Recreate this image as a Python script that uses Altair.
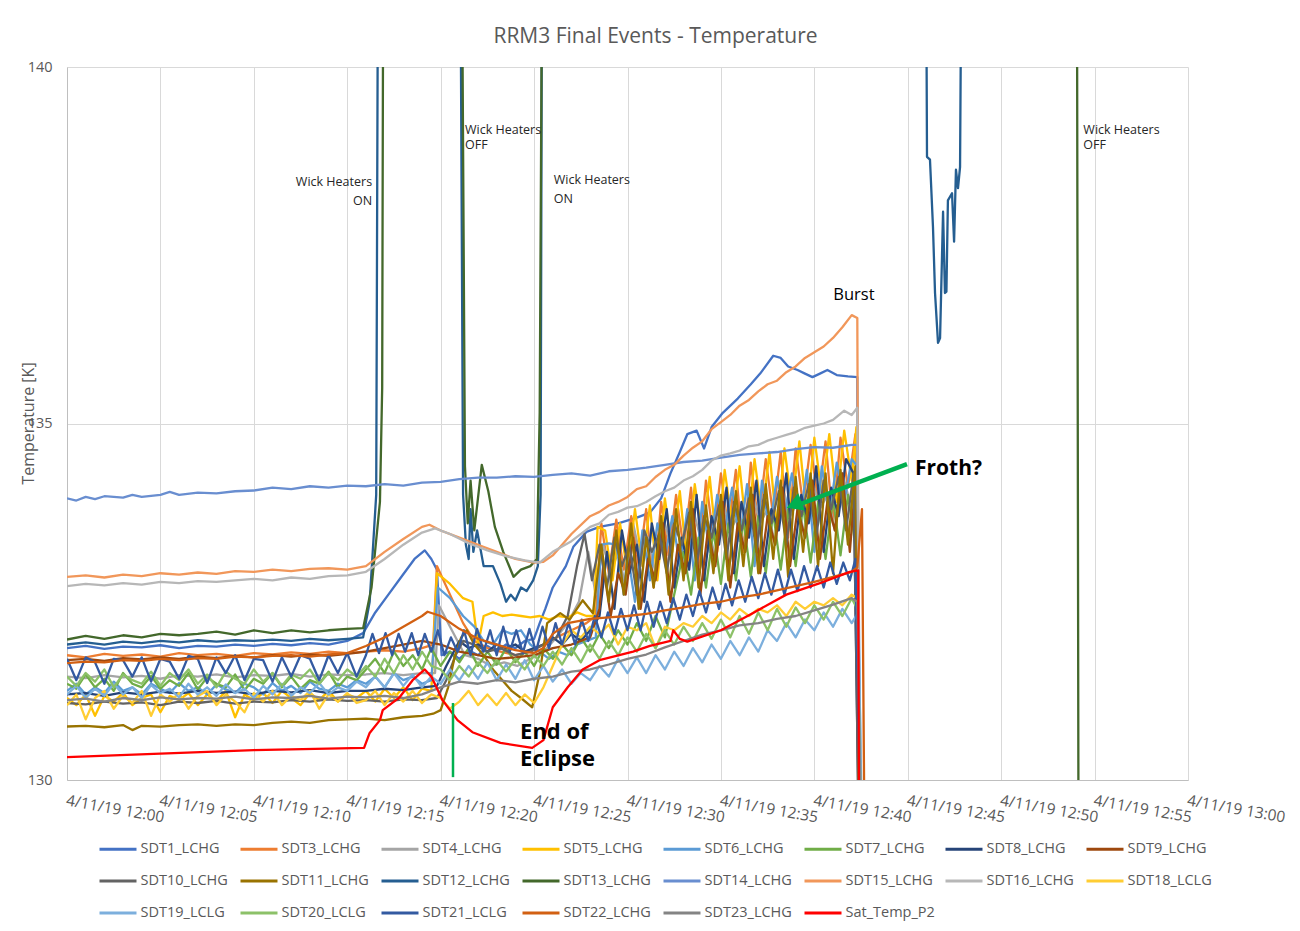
import altair as alt
import pandas as pd

# ---------------------------------------------------------------- data
# time in minutes after 4/11/19 12:00, temperature in K
PRE_T = [i * 0.5 for i in range(32)]  # 12:00 .. 12:15:30, 30 s sampling

SERIES = ["SDT1_LCHG", "SDT3_LCHG", "SDT4_LCHG", "SDT5_LCHG", "SDT6_LCHG", "SDT7_LCHG",
          "SDT8_LCHG", "SDT9_LCHG", "SDT10_LCHG", "SDT11_LCHG", "SDT12_LCHG", "SDT13_LCHG",
          "SDT14_LCHG", "SDT15_LCHG", "SDT16_LCHG", "SDT18_LCLG", "SDT19_LCLG", "SDT20_LCLG",
          "SDT21_LCLG", "SDT22_LCHG", "SDT23_LCHG", "Sat_Temp_P2"]
COLORS = ["#4472C4", "#ED7D31", "#A5A5A5", "#FFC000", "#5B9BD5", "#70AD47",
          "#264478", "#9E480E", "#636363", "#997300", "#255E91", "#43682B",
          "#698ED0", "#F1975A", "#B7B7B7", "#FFCD33", "#7CAFDD", "#8CC168",
          "#335AA1", "#D26012", "#848484", "#FF0000"]

SDT1 = [(0,131.85),(1,131.88),(2,131.84),(3,131.87),(4,131.86),(5,131.89),(6,131.85),(7,131.88),
        (8,131.87),(9,131.9),(10,131.88),(11,131.91),(12,131.89),(13,131.92),(14,131.9),(15,131.95),
        (15.85,132.06),(16.5,132.35),(17.2,132.6),(17.9,132.85),(18.6,133.1),(19.15,133.22),(19.5,133.1),
        (19.8,132.95),(20.05,131.75),(20.5,131.8),(21,131.7),(21.5,131.82),(22,131.75),(22.5,131.88),
        (23,131.8),(23.5,131.9),(24,131.85),(24.5,131.95),(25.0,131.98),(25.3,132.2),(25.6,132.4),
        (26.0,132.7),(26.7,133.0),(27.1,133.27),(27.8,133.48),(28.5,133.55),(29.5,133.6),(30.5,133.68),
        (31.2,133.75),(31.8,133.95),(32.3,134.3),(32.8,134.6),(33.2,134.85),(33.7,134.9),(34.1,134.65),
        (34.5,134.95),(35.1,135.15),(35.9,135.35),(36.6,135.55),(37.1,135.7),(37.8,135.95),(38.2,135.92),
        (38.6,135.8),(39.1,135.75),(39.5,135.7),(39.9,135.65),(40.3,135.7),(40.7,135.75),(41.2,135.68),
        (41.8,135.66),(42.3,135.65),(42.45,127)]

SDT3 = [(0,131.75),(1,131.72),(2,131.77),(3,131.74),(4,131.76),(5,131.73),(6,131.78),(7,131.75),
        (8,131.77),(9,131.74),(10,131.78),(11,131.76),(12,131.79),(13,131.77),(14,131.8),(15,131.78),
        (16,131.8),(17,131.82),(18,131.8),(19,131.85),(19.6,131.9),(19.8,133.0),(20.5,132.6),(21.2,132.2),
        (21.8,131.95),(22.5,131.85),(23.2,131.8),(24,131.75),(24.8,131.8),(25.5,131.9),(26.2,132.0),
        (27,132.1),(27.8,132.2),(28.3,132.3),(28.6,133.6),(29.0,132.9),(29.4,133.65),(29.8,132.95),
        (30.2,133.7),(30.6,133.0),(31.0,133.8),(31.4,132.7),(31.8,133.9),(32.2,133.15),(32.6,134.0),
        (33.0,133.25),(33.4,134.1),(33.8,133.0),(34.2,134.2),(34.6,133.4),(35.0,134.3),(35.4,133.5),
        (35.8,134.35),(36.2,133.2),(36.6,134.45),(37.0,133.6),(37.4,134.5),(37.8,133.7),(38.2,134.6),
        (38.6,133.4),(39.0,134.65),(39.4,133.85),(39.8,134.7),(40.2,133.9),(40.6,134.75),(41.0,133.6),
        (41.4,134.8),(41.8,134.1),(42.2,134.85),(42.45,127)]

SDT4 = [(0,131.45),(1,131.43),(2,131.47),(3,131.44),(4,131.46),(5,131.42),(6,131.47),(7,131.45),
        (8,131.48),(9,131.44),(10,131.47),(11,131.46),(12,131.49),(13,131.45),(14,131.48),(15,131.47),
        (16,131.48),(17,131.5),(18,131.47),(19,131.5),(19.7,131.5),(19.9,132.45),(20.6,132.1),(21.3,131.75),
        (22,131.7),(22.7,131.6),(23.4,131.65),(24.1,131.6),(24.8,131.7),(25.5,131.8),(26.2,132.0),
        (26.8,132.2),(27.4,132.5),(27.9,133.2),(28.3,132.6),(28.7,133.3),(29.1,132.9),(29.5,133.2),
        (29.9,132.7),(30.3,133.6),(30.7,133.1),(31.1,133.4),(31.5,132.9),(31.9,133.7),(32.3,133.3),
        (32.7,133.5),(33.1,133.0),(33.5,133.8),(33.9,133.4),(34.3,133.6),(34.7,133.1),(35.1,133.9),
        (35.5,133.5),(35.9,133.7),(36.3,133.2),(36.7,134.0),(37.1,133.6),(37.5,133.8),(37.9,133.3),
        (38.3,134.1),(38.7,133.7),(39.1,133.9),(39.5,133.4),(39.9,134.2),(40.3,133.8),(40.7,134.0),
        (41.1,133.5),(41.5,134.3),(41.9,133.9),(42.2,134.25),(42.55,127)]

SDT5_PRE = [131.15,131.05,131.2,130.9,131.18,131.1,131.22,131.05,131.15,131.2,130.95,131.18,131.12,
            131.22,131.05,131.2,131.1,131.25,130.88,131.2,131.12,131.22,131.08,131.25,131.15,131.05,
            131.22,131.12,131.25,131.1,131.2,131.15]
SDT5 = [(16,131.25),(16.5,131.1),(17,131.28),(17.5,131.15),(18,131.3),(18.5,131.12),(19,131.28),
        (19.5,131.25),(19.8,132.9),(20.5,132.75),(21.2,132.55),(21.7,132.5),(22.0,131.9),(22.3,132.3),
        (22.8,132.35),(23.3,132.3),(23.8,132.32),(24.3,132.3),(24.8,132.28),(25.3,132.3),(25.8,132.25),
        (26.3,132.3),(26.8,132.28),(27.3,132.35),(27.8,132.3),(28.2,132.3),(28.4,133.55),(28.8,133.5),
        (29.2,132.8),(29.6,133.6),(30.0,132.9),(30.4,133.8),(30.8,133.0),(31.2,133.85),(31.6,132.8),
        (32.0,133.95),(32.4,133.2),(32.8,134.05),(33.2,133.0),(33.6,134.15),(34.0,133.4),(34.4,134.25),
        (34.8,133.2),(35.2,134.35),(35.6,133.6),(36.0,134.4),(36.4,133.4),(36.8,134.5),(37.2,133.7),
        (37.6,134.6),(38.0,133.5),(38.4,134.65),(38.8,133.85),(39.2,134.75),(39.6,133.7),(40.0,134.8),
        (40.4,134.0),(40.8,134.85),(41.2,133.9),(41.6,134.9),(42.0,134.2),(42.25,134.95),(42.45,127)]

SDT6_PRE = [131.25,131.35,131.2,131.3,131.22,131.38,131.25,131.3,131.2,131.35,131.28,131.22,131.36,
            131.25,131.3,131.2,131.34,131.27,131.22,131.35,131.3,131.2,131.36,131.25,131.32,131.22,
            131.38,131.28,131.25,131.35,131.3,131.4]
SDT6 = [(16,131.35),(16.5,131.45),(17,131.3),(17.5,131.5),(18,131.4),(18.5,131.45),(19,131.35),
        (19.5,131.4),(19.85,132.7),(20.5,132.55),(21.2,132.3),(21.8,132.15),(22.3,131.95),(22.8,131.9),
        (23.3,132.1),(23.8,132.05),(24.3,132.1),(24.8,131.9),(25.3,131.8),(25.8,131.7),(26.3,131.8),
        (26.8,131.75),(27.3,131.9),(27.8,131.95),(28.3,132.0),(28.6,133.3),(29.0,133.32),(29.4,133.3),
        (29.8,132.6),(30.0,133.2),(30.4,132.5),(30.8,133.5),(31.2,132.8),(31.6,133.6),(32.0,133.1),
        (32.4,133.7),(32.8,133.0),(33.2,133.8),(33.6,132.8),(34.0,133.9),(34.4,133.2),(34.8,134.0),
        (35.2,133.5),(35.6,134.1),(36.0,133.35),(36.4,134.15),(36.8,133.0),(37.2,134.2),(37.6,133.5),
        (38.0,134.25),(38.4,133.7),(38.8,134.3),(39.2,133.6),(39.6,134.35),(40.0,133.2),(40.4,134.4),
        (40.8,133.7),(41.2,134.45),(41.6,133.9),(42.0,134.5),(42.3,134.4),(42.6,127)]

SDT7_PRE = [131.35,131.28,131.48,131.3,131.42,131.25,131.5,131.35,131.3,131.46,131.28,131.4,131.32,
            131.5,131.27,131.44,131.35,131.3,131.48,131.26,131.42,131.35,131.5,131.3,131.45,131.28,
            131.4,131.35,131.52,131.3,131.45,131.4]
SDT7 = [(16,131.55),(16.5,131.7),(17,131.5),(17.5,131.8),(18,131.6),(18.5,131.75),(19,131.55),
        (19.5,131.85),(20,131.6),(20.5,131.8),(21,131.65),(21.5,131.85),(22,131.6),(22.5,131.8),
        (23,131.62),(23.5,131.85),(24,131.65),(24.5,131.8),(25,131.6),(25.5,131.85),(26,131.7),
        (26.5,131.9),(27,131.75),(27.5,132.0),(28,131.8),(28.5,132.05),(29,131.85),(29.5,132.1),
        (30,131.9),(30.5,132.2),(31,131.95),(31.5,132.3),(32,132.0),(32.5,132.6),(33,133.2),(33.4,132.6),
        (33.8,133.4),(34.2,132.7),(34.6,133.5),(35,132.75),(35.4,133.6),(35.8,132.8),(36.2,133.65),
        (36.6,132.85),(37,133.7),(37.4,132.9),(37.8,133.75),(38.2,132.95),(38.6,133.8),(39,133.0),
        (39.4,133.85),(39.8,133.05),(40.2,133.9),(40.6,133.1),(41,133.95),(41.4,133.15),(41.8,134.0),
        (42.2,133.3),(42.6,127)]

SDT8 = [(0,131.2),(1,131.22),(2,131.18),(3,131.23),(4,131.2),(5,131.24),(6,131.21),(7,131.25),
        (8,131.22),(9,131.24),(10,131.2),(11,131.25),(12,131.23),(13,131.26),(14,131.22),(15,131.25),
        (16,131.25),(17,131.28),(18,131.26),(19,131.3),(19.8,131.32),(20.3,131.6),(21.0,131.95),
        (21.5,131.85),(22,131.9),(22.5,131.8),(23,131.9),(23.5,131.85),(24,131.9),(24.5,131.8),
        (25,131.85),(25.5,131.9),(26,132.0),(26.5,131.9),(27,132.05),(27.5,131.95),(28,132.1),
        (28.5,132.3),(28.9,133.2),(29.3,132.4),(29.7,133.5),(30.1,132.9),(30.5,133.3),(30.9,132.5),
        (31.3,133.6),(31.7,133.1),(32.1,133.8),(32.5,132.7),(32.9,133.4),(33.3,132.95),(33.7,134.0),
        (34.1,132.8),(34.5,133.7),(34.9,133.3),(35.3,134.1),(35.7,132.9),(36.1,133.9),(36.5,133.4),
        (36.9,134.2),(37.3,133.0),(37.7,133.8),(38.1,133.5),(38.5,134.3),(38.9,133.1),(39.3,134.0),
        (39.7,133.6),(40.1,134.4),(40.5,133.2),(40.9,134.1),(41.3,133.7),(41.7,134.5),(42.1,134.3),
        (42.5,127)]

SDT9 = [(0,131.68),(1,131.7),(2,131.67),(3,131.71),(4,131.69),(5,131.72),(6,131.7),(7,131.73),
        (8,131.71),(9,131.74),(10,131.72),(11,131.75),(12,131.73),(13,131.76),(14,131.74),(15,131.77),
        (16,131.8),(17,131.85),(18,131.9),(19,131.95),(20,131.9),(21,131.8),(22,131.75),(23,131.7),
        (24,131.72),(25,131.75),(26,131.85),(27,131.9),(28,132.0),(28.5,132.4),(28.7,133.0),(29.1,132.3),
        (29.5,132.9),(29.9,132.6),(30.3,133.4),(30.7,132.4),(31.1,133.1),(31.5,132.8),(31.9,133.6),
        (32.3,132.5),(32.7,133.3),(33.1,132.9),(33.5,133.8),(33.9,132.6),(34.3,133.5),(34.7,133.0),
        (35.1,133.9),(35.5,132.7),(35.9,133.6),(36.3,133.2),(36.7,134.0),(37.1,132.9),(37.5,133.7),
        (37.9,133.3),(38.3,134.1),(38.7,133.0),(39.1,133.8),(39.5,133.4),(39.9,134.2),(40.3,133.1),
        (40.7,133.9),(41.1,133.5),(41.5,134.3),(41.9,133.2),(42.2,134.2),(42.55,127)]

SDT10 = [(0,131.08),(1,131.06),(2,131.1),(3,131.07),(4,131.09),(5,131.05),(6,131.1),(7,131.08),
         (8,131.11),(9,131.07),(10,131.1),(11,131.09),(12,131.12),(13,131.1),(14,131.13),(15,131.11),
         (16,131.12),(17,131.1),(18,131.13),(19,131.12),(19.8,131.15),(20.3,131.4),(20.8,131.75),
         (21.2,131.95),(21.8,131.9),(22.5,131.8),(23.2,131.85),(24,131.75),(24.8,131.8),(25.5,131.9),
         (26.2,132.0),(26.8,132.3),(27.3,133.0),(27.7,133.45),(28.1,132.8),(28.5,133.3),(28.9,132.7),
         (29.3,133.4),(29.7,133.0),(30.1,133.3),(30.5,132.6),(30.9,133.5),(31.3,133.2),(31.7,133.45),
         (32.1,132.9),(32.5,133.6),(32.9,133.3),(33.3,133.75),(33.7,133.0),(34.1,133.7),(34.5,133.4),
         (34.9,133.85),(35.3,133.1),(35.7,133.9),(36.1,133.5),(36.5,133.95),(36.9,133.2),(37.3,134.0),
         (37.7,133.6),(38.1,134.05),(38.5,133.3),(38.9,134.1),(39.3,133.7),(39.7,134.15),(40.1,133.4),
         (40.5,134.2),(40.9,133.8),(41.3,134.25),(41.7,133.5),(42.1,134.3),(42.5,127)]

SDT11 = [(0,130.75),(1,130.76),(2,130.74),(3,130.77),(3.5,130.7),(4,130.76),(5,130.75),(6,130.77),
         (7,130.78),(8,130.76),(9,130.78),(10,130.77),(11,130.8),(12,130.82),(13,130.8),(14,130.84),
         (15,130.85),(16,130.86),(17,130.84),(18,130.88),(19,130.9),(19.6,130.93),(20.0,130.98),
         (20.4,131.3),(20.75,131.73),(21.1,132.0),(21.4,132.1),(21.8,131.9),(22.3,131.75),(22.8,131.55),
         (23.3,131.4),(23.8,131.25),(24.3,131.15),(24.9,131.02),(25.3,131.5),(25.7,132.2),(26.4,132.34),
         (26.9,132.25),(27.6,132.52),(28.15,132.34),(28.6,133.3),(29.0,132.5),(29.4,133.5),(29.8,132.6),
         (30.2,133.6),(30.6,132.4),(31.0,133.4),(31.4,132.7),(31.8,133.7),(32.2,132.6),(32.6,133.8),
         (33.0,132.8),(33.4,133.9),(33.8,132.7),(34.2,133.85),(34.6,132.9),(35.0,134.0),(35.4,132.8),
         (35.8,134.05),(36.2,133.0),(36.6,134.1),(37.0,132.9),(37.4,134.15),(37.8,133.1),(38.2,134.2),
         (38.6,132.85),(39.0,134.25),(39.4,133.2),(39.8,134.3),(40.2,133.0),(40.6,134.3),(41.0,132.9),
         (41.4,134.35),(41.8,133.3),(42.2,134.4),(42.5,127)]

SDT12 = [(0,131.9),(1,131.93),(2,131.9),(3,131.94),(4,131.92),(5,131.95),(6,131.93),(7,131.96),
         (8,131.94),(9,131.96),(10,131.95),(11,131.97),(12,131.95),(13,131.98),(14,131.96),(15,131.98),
         (15.85,132.0),(16.2,132.5),(16.55,134.0),(16.75,150),(20.9,150),(21.2,134.0),(21.35,133.3),
         (21.5,133.1),(21.6,133.8),(21.75,133.2),(21.95,133.5),(22.3,133.0),(22.8,133.0),(23.2,132.75),
         (23.5,132.5),(23.75,132.6),(24.0,132.52),(24.3,132.7),(24.6,132.65),(24.95,132.8),(25.2,133.0),
         (25.35,134.0),(25.5,150),(45.85,150),(46.03,138.74),(46.19,138.7),(46.35,137.76),(46.46,136.83),
         (46.62,136.13),(46.73,136.2),(46.89,137.97),(46.99,136.83),(47.07,136.85),(47.15,138.13),
         (47.37,138.23),(47.48,137.55),(47.58,138.56),(47.69,138.3),(47.8,138.6),(47.95,145)]

SDT13 = [(0,131.97),(1,132.02),(2,131.98),(3,132.03),(4,132.0),(5,132.05),(6,132.03),(7,132.05),
         (8,132.08),(9,132.04),(10,132.1),(11,132.06),(12,132.1),(13,132.07),(14,132.1),(15,132.12),
         (15.85,132.13),(16.3,132.7),(16.75,133.9),(16.87,135.5),(17.0,150),(20.95,150),(21.3,134.4),
         (21.45,133.6),(21.6,134.2),(21.8,133.5),(22.2,134.42),(22.55,134.05),(22.9,133.55),(23.35,133.2),
         (23.9,132.85),(24.3,132.95),(24.8,133.0),(25.15,133.1),(25.3,135.15),(25.6,150),(54.0,150),
         (54.2,120)]

SDT14 = [(0,133.95),(0.5,133.92),(1,133.97),(1.5,133.94),(2,133.98),(3,133.96),(3.5,134.0),(4,133.97),
         (5,134.0),(5.5,134.04),(6,134.0),(7,134.03),(8,134.02),(9,134.05),(10,134.06),(11,134.1),
         (12,134.08),(13,134.12),(14,134.1),(15,134.13),(16,134.12),(17,134.15),(18,134.13),(19,134.17),
         (20,134.18),(21,134.22),(22,134.24),(23,134.24),(24,134.26),(25,134.25),(26,134.28),(27,134.3),
         (28,134.27),(29,134.33),(30,134.35),(31,134.38),(32,134.42),(33,134.46),(34,134.48),(35,134.52),
         (36,134.56),(37,134.58),(38,134.6),(39,134.64),(40,134.67),(41,134.66),(42,134.7),(42.3,134.7),
         (42.5,127)]

SDT15 = [(0,132.85),(1,132.87),(2,132.84),(3,132.88),(4,132.86),(5,132.9),(6,132.88),(7,132.91),
         (8,132.89),(9,132.93),(10,132.92),(11,132.95),(12,132.93),(13,132.96),(14,132.97),(15,132.95),
         (16,133.0),(17,133.2),(18,133.38),(19,133.55),(19.4,133.58),(20,133.5),(21,133.4),(22,133.3),
         (23,133.2),(24,133.1),(25,133.05),(25.5,133.06),(26,133.15),(27,133.45),(28,133.7),(28.5,133.76),
         (29,133.85),(29.5,133.9),(30,133.97),(30.5,134.08),(31,134.12),(31.5,134.25),(32,134.35),
         (32.5,134.42),(33,134.55),(33.5,134.66),(34,134.75),(34.5,134.92),(35,135.02),(35.5,135.12),
         (36,135.25),(36.5,135.33),(37,135.45),(37.5,135.55),(38,135.6),(38.5,135.72),(39,135.8),
         (39.5,135.92),(40,136.0),(40.5,136.08),(41,136.2),(41.5,136.35),(42,136.52),(42.3,136.48),
         (42.45,127)]

SDT16 = [(0,132.72),(1,132.75),(2,132.73),(3,132.76),(4,132.74),(5,132.78),(6,132.76),(7,132.79),
         (8,132.78),(9,132.8),(10,132.82),(11,132.8),(12,132.84),(13,132.82),(14,132.86),(15,132.87),
         (16,132.92),(17,133.1),(18,133.3),(19,133.47),(19.7,133.53),(20.5,133.45),(21.5,133.32),
         (22.5,133.22),(23.5,133.14),(24.5,133.08),(25.3,133.05),(26,133.2),(27,133.35),(28,133.55),
         (28.5,133.6),(29,133.72),(29.5,133.76),(30,133.82),(30.5,133.84),(31,133.9),(31.5,133.98),
         (32,134.05),(32.5,134.1),(33,134.2),(33.5,134.26),(34,134.35),(34.5,134.48),(35,134.55),
         (35.5,134.58),(36,134.62),(36.5,134.68),(37,134.7),(37.5,134.76),(38,134.8),(38.5,134.84),
         (39,134.88),(39.5,134.94),(40,134.97),(40.5,135.0),(41,135.05),(41.6,135.18),(42,135.12),
         (42.3,135.22),(42.5,127)]

SDT18_PRE = [131.05,131.2,130.85,131.15,131.25,131.0,131.18,131.08,131.25,130.9,131.2,131.1,131.22,
             131.0,131.18,131.25,131.05,131.2,131.1,130.95,131.22,131.1,131.25,131.05,131.18,131.12,
             131.25,131.0,131.2,131.1,131.22,131.08]
SDT18 = [(16,131.12),(16.5,131.25),(17,131.05),(17.5,131.22),(18,131.1),(18.5,131.25),(19,131.08),
         (19.5,131.2),(20.0,131.15),(20.5,131.0),(21.0,131.1),(21.5,131.25),(22,131.05),(22.5,131.2),
         (23,131.05),(23.5,131.22),(24,131.05),(24.5,131.2),(25,131.08),(25.5,131.3),(26,131.6),
         (26.5,131.9),(27,132.1),(27.5,132.0),(28,132.15),(28.5,132.05),(29,132.18),(29.5,131.9),
         (30,132.15),(30.5,132.1),(31,132.2),(31.5,131.85),(32,132.15),(32.5,132.1),(33,132.2),
         (33.5,132.15),(34,132.3),(34.5,132.2),(35,132.35),(35.5,132.25),(36,132.4),(36.5,132.3),
         (37,132.4),(37.5,132.35),(38,132.45),(38.5,132.3),(39,132.5),(39.5,132.4),(40,132.5),
         (40.5,132.45),(41,132.55),(41.5,132.45),(42,132.6),(42.3,132.55),(42.7,127)]

SDT19_PRE = [131.2,131.32,131.15,131.28,131.18,131.35,131.2,131.3,131.15,131.33,131.22,131.28,131.16,
             131.35,131.2,131.3,131.18,131.34,131.22,131.28,131.15,131.32,131.2,131.35,131.18,131.3,
             131.22,131.36,131.2,131.3,131.25,131.38]
SDT19 = [(16,131.3),(16.5,131.45),(17,131.3),(17.5,131.5),(18,131.32),(18.5,131.48),(19,131.3),
         (19.5,131.45),(20,131.35),(20.5,131.55),(21,131.4),(21.5,131.6),(22,131.42),(22.5,131.65),
         (23,131.4),(23.5,131.62),(24,131.42),(24.5,131.68),(25,131.4),(25.5,131.6),(26,131.38),
         (26.5,131.55),(27,131.35),(27.5,131.5),(28,131.4),(28.5,131.6),(29,131.45),(29.5,131.7),
         (30,131.5),(30.5,131.72),(31,131.5),(31.5,131.75),(32,131.55),(32.5,131.8),(33,131.6),
         (33.5,131.85),(34,131.65),(34.5,131.9),(35,131.7),(35.5,131.95),(36,131.75),(36.5,132.0),
         (37,131.8),(37.5,132.1),(38,131.95),(38.5,132.2),(39,132.0),(39.5,132.25),(40,132.1),
         (40.5,132.35),(41,132.15),(41.5,132.4),(42,132.2),(42.35,132.35),(42.7,127)]

SDT20_PRE = [131.45,131.32,131.5,131.38,131.55,131.3,131.48,131.4,131.35,131.52,131.32,131.5,131.4,
             131.55,131.35,131.48,131.3,131.52,131.42,131.35,131.55,131.38,131.5,131.32,131.48,131.42,
             131.55,131.35,131.5,131.4,131.55,131.45]
SDT20 = [(16,131.6),(16.5,131.45),(17,131.7),(17.5,131.5),(18,131.75),(18.5,131.55),(19,131.8),
         (19.5,131.6),(20,131.55),(20.5,131.4),(21,131.6),(21.5,131.45),(22,131.65),(22.5,131.5),
         (23,131.68),(23.5,131.52),(24,131.7),(24.5,131.55),(25,131.75),(25.5,131.6),(26,131.8),
         (26.5,131.62),(27,131.85),(27.5,131.65),(28,131.9),(28.5,131.7),(29,131.95),(29.5,131.75),
         (30,132.0),(30.5,131.8),(31,132.05),(31.5,131.85),(32,132.1),(32.5,131.9),(33,132.15),
         (33.5,131.95),(34,132.2),(34.5,131.98),(35,132.25),(35.5,132.0),(36,132.3),(36.5,132.05),
         (37,132.35),(37.5,132.1),(38,132.4),(38.5,132.15),(39,132.42),(39.5,132.2),(40,132.45),
         (40.5,132.25),(41,132.5),(41.5,132.3),(42,132.55),(42.3,132.4),(42.65,127)]

SDT21_PRE = [131.7,131.4,131.72,131.65,131.35,131.7,131.68,131.45,131.72,131.38,131.7,131.66,131.42,
             131.74,131.7,131.36,131.72,131.5,131.75,131.4,131.7,131.68,131.38,131.72,131.45,131.75,
             131.7,131.4,131.75,131.5,131.78,131.45]
SDT21 = [(16,131.75),(16.35,132.05),(16.7,131.78),(17.05,132.06),(17.4,131.75),(17.75,132.05),
         (18.1,131.8),(18.45,132.06),(18.8,131.75),(19.15,132.05),(19.5,131.8),(19.85,132.1),
         (20.2,131.75),(20.55,132.0),(20.9,131.8),(21.25,132.1),(21.6,131.75),(21.95,132.12),
         (22.3,131.8),(22.65,132.1),(23.0,131.75),(23.35,132.15),(23.7,131.8),(24.05,132.1),
         (24.4,131.78),(24.75,132.12),(25.1,131.8),(25.45,132.15),(25.8,131.85),(26.15,132.2),
         (26.5,131.9),(26.85,132.2),(27.2,131.9),(27.55,132.25),(27.9,131.95),(28.25,132.3),
         (28.6,132.0),(28.95,132.35),(29.3,132.05),(29.65,132.4),(30.0,132.1),(30.35,132.45),
         (30.7,132.1),(31.05,132.5),(31.4,132.15),(31.75,132.5),(32.1,132.2),(32.45,132.55),
         (32.8,132.25),(33.15,132.6),(33.5,132.3),(33.85,132.65),(34.2,132.35),(34.55,132.7),
         (34.9,132.4),(35.25,132.75),(35.6,132.45),(35.95,132.8),(36.3,132.5),(36.65,132.85),
         (37.0,132.55),(37.35,132.9),(37.7,132.6),(38.05,132.95),(38.4,132.6),(38.75,132.95),
         (39.1,132.65),(39.45,133.0),(39.8,132.7),(40.15,133.0),(40.5,132.7),(40.85,133.05),
         (41.2,132.75),(41.55,133.05),(41.9,132.8),(42.2,133.1),(42.6,127)]

SDT22 = [(0,131.64),(1,131.66),(2,131.65),(3,131.68),(4,131.67),(5,131.7),(6,131.68),(7,131.71),
         (8,131.7),(9,131.73),(10,131.72),(11,131.74),(12,131.75),(13,131.73),(14,131.76),(15,131.78),
         (16,131.88),(17,132.0),(18,132.15),(19,132.3),(19.3,132.36),(20,132.3),(21,132.12),(22,131.98),
         (23,131.9),(24,131.82),(25,131.78),(25.5,131.85),(26,132.05),(26.8,132.2),(28,132.26),
         (29,132.28),(30,132.3),(31,132.33),(32,132.38),(33,132.42),(34,132.47),(35,132.5),(36,132.56),
         (37,132.6),(38,132.66),(39,132.72),(40,132.78),(41,132.85),(42,132.92),(42.3,132.98),
         (42.55,133.8),(42.75,127)]

SDT23 = [(0,131.12),(1,131.14),(2,131.1),(3,131.15),(4,131.12),(5,131.16),(6,131.13),(7,131.15),
         (8,131.14),(9,131.17),(10,131.13),(11,131.16),(12,131.15),(13,131.18),(14,131.14),(15,131.17),
         (16,131.16),(17,131.18),(18,131.15),(19,131.2),(20,131.3),(21,131.38),(22,131.35),(23,131.4),
         (24,131.37),(25,131.42),(26,131.45),(27,131.52),(28,131.55),(29,131.62),(30,131.7),(31,131.76),
         (32,131.86),(33,131.95),(34,132.04),(35,132.1),(36,132.17),(37,132.2),(38,132.26),(39,132.3),
         (40,132.38),(41,132.46),(42,132.55),(42.3,132.5),(42.65,127)]

SAT = [(0,130.32),(5,130.37),(10,130.42),(15.9,130.45),(16.2,130.66),(16.75,130.84),(16.9,130.98),
       (17.8,131.16),(18.5,131.4),(19.15,131.55),(19.5,131.45),(20.1,131.12),(20.9,130.84),
       (21.7,130.67),(23.2,130.52),(24.9,130.45),(25.5,130.56),(26.0,131.02),(26.8,131.3),
       (27.6,131.55),(28.5,131.68),(30.3,131.8),(31.2,131.88),(32.3,131.95),(32.45,132.1),
       (32.8,131.98),(33.2,131.94),(35,132.1),(36.7,132.34),(38.5,132.6),(40.3,132.76),(41.9,132.92),
       (42.35,132.94),(42.45,125)]

DATA = {
    "SDT1_LCHG": SDT1, "SDT3_LCHG": SDT3, "SDT4_LCHG": SDT4,
    "SDT5_LCHG": list(zip(PRE_T, SDT5_PRE)) + SDT5,
    "SDT6_LCHG": list(zip(PRE_T, SDT6_PRE)) + SDT6,
    "SDT7_LCHG": list(zip(PRE_T, SDT7_PRE)) + SDT7,
    "SDT8_LCHG": SDT8, "SDT9_LCHG": SDT9, "SDT10_LCHG": SDT10, "SDT11_LCHG": SDT11,
    "SDT12_LCHG": SDT12, "SDT13_LCHG": SDT13, "SDT14_LCHG": SDT14, "SDT15_LCHG": SDT15,
    "SDT16_LCHG": SDT16,
    "SDT18_LCLG": list(zip(PRE_T, SDT18_PRE)) + SDT18,
    "SDT19_LCLG": list(zip(PRE_T, SDT19_PRE)) + SDT19,
    "SDT20_LCLG": list(zip(PRE_T, SDT20_PRE)) + SDT20,
    "SDT21_LCLG": list(zip(PRE_T, SDT21_PRE)) + SDT21,
    "SDT22_LCHG": SDT22, "SDT23_LCHG": SDT23, "Sat_Temp_P2": SAT,
}

# annotations
WICK_R_T = [16.33, 16.33]
WICK_R_V = [138.39, 138.12]
WICK_R_TXT = ["Wick Heaters", "ON"]
WICK_L_T = [21.3, 21.3, 26.05, 26.05, 54.4, 54.4]
WICK_L_V = [139.11, 138.90, 138.42, 138.15, 139.11, 138.90]
WICK_L_TXT = ["Wick Heaters", "OFF", "Wick Heaters", "ON", "Wick Heaters", "OFF"]
ECLIPSE_T = [24.25, 24.25]
ECLIPSE_V = [130.67, 130.29]
ECLIPSE_TXT = ["End of", "Eclipse"]
ECLIPSE_LINE = {"t": [20.66], "v": [130.04], "v2": [131.08]}
ARROW_T = [44.96, 39.04]
ARROW_V = [134.43, 133.85]
ARROW_HEAD = {"t": [38.92], "v": [133.86]}

# ---------------------------------------------------------------- frame
rows = []
for name in SERIES:
    for i, (t, v) in enumerate(DATA[name]):
        rows.append({"series": name, "t": t, "v": v, "i": i})
df = pd.DataFrame(rows)

FONT = "Open Sans"
GREY = "#595959"

X_ENC = alt.X("t:Q", scale=alt.Scale(domain=[0, 60], nice=False, zero=False),
              axis=alt.Axis(values=list(range(0, 61, 5)), title=None,
                            labelExpr="'4/11/19 ' + (datum.value >= 60 ? '13:00' : '12:' + (datum.value < 10 ? '0' : '') + datum.value)",
                            labelAngle=10, labelAlign="left", labelBaseline="top",
                            labelFont=FONT, labelFontSize=15.5, labelColor=GREY, labelPadding=13,
                            labelOverlap=False, labelFlush=False, labelBound=False,
                            ticks=False, grid=True, gridColor="#D9D9D9", domainColor="#BFBFBF"))
Y_ENC = alt.Y("v:Q", scale=alt.Scale(domain=[130, 140], nice=False, zero=False),
              axis=alt.Axis(values=[130, 135, 140], title="Temperature [K]",
                            labelFont=FONT, labelFontSize=14.5, labelColor=GREY, labelPadding=15,
                            labelFlush=False, ticks=False, grid=True, gridColor="#D9D9D9",
                            domainColor="#BFBFBF", titleFont=FONT, titleFontSize=16,
                            titleFontWeight="normal", titleColor=GREY, titleAngle=270,
                            titleX=-39, titleY=356, titleAlign="center", titleBaseline="middle"))

lines = alt.Chart(df).mark_line(strokeWidth=2.3, clip=True, strokeJoin="round").encode(
    x=X_ENC, y=Y_ENC,
    color=alt.Color("series:N", scale=alt.Scale(domain=SERIES, range=COLORS),
                    legend=alt.Legend(orient="none", direction="horizontal", legendX=42, legendY=773,
                                      columns=8, title=None, symbolType="M-2.5,0H2.5", symbolSize=219,
                                      symbolStrokeWidth=3, labelOffset=13.5, gridAlign="all",
                                      columnPadding=4, rowPadding=16, labelFont=FONT,
                                      labelFontSize=14.5, labelColor=GREY, labelLimit=300)),
    order="i:Q",
)

eclipse_rule = alt.Chart(pd.DataFrame(ECLIPSE_LINE)).mark_rule(color="#00B050", strokeWidth=2.5).encode(
    x=X_ENC, y=Y_ENC, y2="v2:Q")

arrow = alt.Chart(pd.DataFrame({"t": ARROW_T, "v": ARROW_V})).mark_line(
    color="#00B050", strokeWidth=4.5).encode(x=X_ENC, y=Y_ENC)
head = alt.Chart(pd.DataFrame(ARROW_HEAD)).mark_point(
    shape="triangle-up", angle=249, size=340, filled=True, color="#00B050", opacity=1).encode(
    x=X_ENC, y=Y_ENC)

txt_r = alt.Chart(pd.DataFrame({"t": WICK_R_T, "v": WICK_R_V, "label": WICK_R_TXT})).mark_text(
    align="right", baseline="middle", font=FONT, fontSize=12.5, color="#262626").encode(
    x=X_ENC, y=Y_ENC, text="label:N")
txt_l = alt.Chart(pd.DataFrame({"t": WICK_L_T, "v": WICK_L_V, "label": WICK_L_TXT})).mark_text(
    align="left", baseline="middle", font=FONT, fontSize=12.5, color="#262626").encode(
    x=X_ENC, y=Y_ENC, text="label:N")
burst = alt.Chart(pd.DataFrame({"t": [42.12], "v": [136.8], "label": ["Burst"]})).mark_text(
    align="center", baseline="middle", font=FONT, fontSize=16.5, color="#000000").encode(
    x=X_ENC, y=Y_ENC, text="label:N")
froth = alt.Chart(pd.DataFrame({"t": [45.39], "v": [134.36], "label": ["Froth?"]})).mark_text(
    align="left", baseline="middle", font=FONT, fontSize=21, fontWeight="bold", color="#000000").encode(
    x=X_ENC, y=Y_ENC, text="label:N")
eclipse_txt = alt.Chart(pd.DataFrame({"t": ECLIPSE_T, "v": ECLIPSE_V, "label": ECLIPSE_TXT})).mark_text(
    align="left", baseline="middle", font=FONT, fontSize=22, fontWeight="bold", color="#000000").encode(
    x=X_ENC, y=Y_ENC, text="label:N")

chart = alt.layer(lines, eclipse_rule, arrow, head, txt_r, txt_l, burst, froth, eclipse_txt).properties(
    width=1121, height=713,
    autosize=alt.AutoSizeParams(type="none"),
    padding={"left": 59, "top": 59, "right": 104, "bottom": 143},
    background="white",
    title=alt.Title("RRM3 Final Events - Temperature", font=FONT, fontSize=21, fontWeight="normal",
                    color=GREY, anchor="middle", frame="group", dx=28, offset=12),
).configure_view(strokeWidth=0)

chart.save("out.html", embed_options={"renderer": "svg", "actions": False})
